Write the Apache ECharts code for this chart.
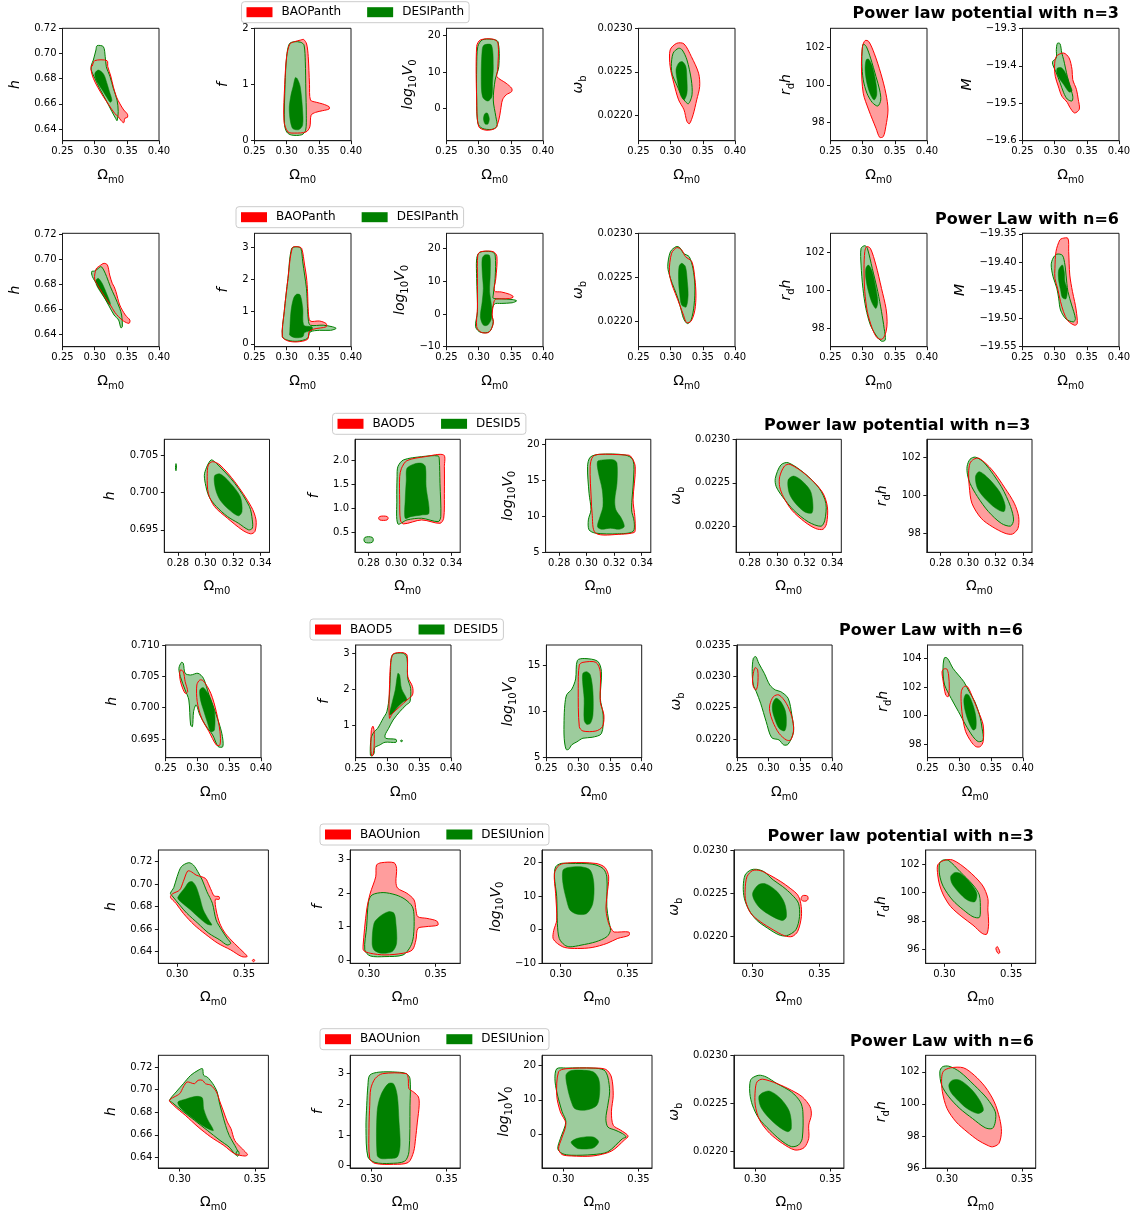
<!DOCTYPE html>
<html>
<head>
<meta charset="utf-8">
<script src="https://cdn.jsdelivr.net/npm/echarts@6/dist/echarts.min.js"></script>
<style>
html,body{margin:0;padding:0;background:#fff}
#chart{width:1145px;height:1216px}
</style>
</head>
<body>
<div id="chart"></div>
<script>
// Contour polygons in data units: each point is [Ωm0, parameter].
// *_bao  : BAO 2σ region, *_desi : DESI 2σ region, *_core : DESI 1σ region.

// ---------- Pantheon+, power law n=3 ----------
const pn3_h_bao = [[[0.296,0.690],[0.300,0.6943],[0.3192,0.6943],[0.3204,0.6895],[0.325,0.6821],[0.329,0.6736],[0.3337,0.6657],[0.3394,0.6599],[0.3452,0.6551],[0.351,0.6517],[0.351,0.6493],[0.347,0.6485],[0.3452,0.645],[0.3412,0.6466],[0.3366,0.6498],[0.3308,0.6525],[0.3221,0.6591],[0.3135,0.6657],[0.3048,0.6731],[0.2979,0.6803],[0.2944,0.6869],[0.2956,0.6909]]];
const pn3_h_desi = [[[0.295,0.6909],[0.2979,0.6948],[0.302,0.7028],[0.3037,0.7062],[0.3135,0.7054],[0.3164,0.6975],[0.3181,0.6895],[0.3239,0.6816],[0.329,0.6723],[0.3348,0.663],[0.3366,0.6538],[0.3348,0.6466],[0.3325,0.6485],[0.3268,0.6538],[0.3175,0.663],[0.3077,0.6723],[0.3002,0.6803],[0.2944,0.6874]]];
const pn3_h_core = [[[0.3005,0.6845],[0.306,0.6868],[0.3140,0.6835],[0.3188,0.6768],[0.3228,0.6700],[0.3268,0.6628],[0.3242,0.6612],[0.3190,0.6650],[0.3120,0.6708],[0.3055,0.6760],[0.3010,0.6808]]];

const pn3_f_bao = [[[0.2958,0.35],[0.297,1.0],[0.300,1.5],[0.305,1.72],[0.312,1.76],[0.3215,1.79],[0.3265,1.80],[0.331,1.72],[0.3335,1.5],[0.3355,1.0],[0.337,0.72],[0.346,0.68],[0.356,0.65],[0.366,0.60],[0.366,0.56],[0.356,0.53],[0.345,0.50],[0.338,0.45],[0.336,0.24],[0.330,0.15],[0.3127,0.13],[0.302,0.15]]];
const pn3_f_desi = [[[0.2965,0.30],[0.2975,1.0],[0.300,1.5],[0.304,1.72],[0.311,1.76],[0.322,1.75],[0.327,1.70],[0.329,1.4],[0.3298,0.9],[0.3305,0.45],[0.3295,0.18],[0.3235,0.10],[0.3075,0.095],[0.300,0.15]]];
const pn3_f_core = [[[0.3087,0.22],[0.304,0.54],[0.3065,0.80],[0.310,0.96],[0.3135,1.12],[0.3165,1.10],[0.321,0.96],[0.3247,0.54],[0.3247,0.27],[0.3185,0.19]]];

const pn3_lv_bao = [[[0.2969,2.3],[0.2969,17.0],[0.3027,18.8],[0.3227,19.0],[0.3301,17.9],[0.3296,10.6],[0.3284,8.7],[0.3427,6.9],[0.3513,5.5],[0.3513,4.6],[0.3427,3.7],[0.337,2.3],[0.3341,-0.5],[0.3313,-3.2],[0.3256,-5.5],[0.3112,-6.0],[0.300,-5.0]]];
const pn3_lv_desi = [[[0.2969,11.5],[0.2987,17.0],[0.3055,18.8],[0.3198,19.0],[0.3301,18.3],[0.3313,11.5],[0.3256,7.8],[0.3227,2.3],[0.3267,-2.3],[0.3284,-5.0],[0.3198,-5.8],[0.3055,-5.5],[0.2987,-4.1],[0.2969,2.3]]];
const pn3_lv_core = [[[0.3055,16.1],[0.3084,17.4],[0.3198,17.4],[0.3227,11.5],[0.3215,6.9],[0.3205,3.2],[0.3141,2.0],[0.3060,3.2],[0.3040,8.7]],[[0.3075,-2.9],[0.3095,-1.5],[0.3135,-1.3],[0.3165,-2.9],[0.3145,-4.3],[0.3100,-4.3]]];

const pn3_wb_bao = [[[0.2992,0.022752],[0.3094,0.022828],[0.3207,0.022821],[0.3321,0.022676],[0.3434,0.022485],[0.3451,0.022332],[0.3405,0.022179],[0.3349,0.022008],[0.3292,0.021905],[0.3253,0.021931],[0.3207,0.022065],[0.3123,0.022179],[0.3049,0.02237],[0.2992,0.022561]]];
const pn3_wb_desi = [[[0.3009,0.022561],[0.3038,0.022714],[0.3123,0.022771],[0.3179,0.022752],[0.3253,0.022637],[0.3321,0.022408],[0.3332,0.022237],[0.3275,0.022134],[0.3207,0.022179],[0.3151,0.022256],[0.3083,0.02237],[0.3026,0.022466]]];
const pn3_wb_core = [[[0.3083,0.022523],[0.3123,0.0226],[0.3179,0.022618],[0.3236,0.022561],[0.3253,0.022408],[0.3253,0.022256],[0.3207,0.022179],[0.3151,0.022237],[0.3106,0.022389]]];

const pn3_rdh_bao = [[[0.2998,102.04],[0.3038,102.35],[0.3094,102.3],[0.3179,101.68],[0.3281,100.62],[0.336,99.56],[0.3394,98.67],[0.336,97.79],[0.3321,97.26],[0.3264,97.22],[0.3207,97.7],[0.3094,98.67],[0.3009,99.56],[0.2981,100.97]]];
const pn3_rdh_desi = [[[0.2992,101.86],[0.3009,102.16],[0.3055,102.04],[0.3123,101.42],[0.3207,100.44],[0.3264,99.73],[0.3281,99.2],[0.3236,98.88],[0.3151,99.06],[0.3066,99.56],[0.3009,100.27],[0.2987,101.15]]];
const pn3_rdh_core = [[[0.3038,100.8],[0.3055,101.33],[0.3094,101.36],[0.3151,100.97],[0.3207,100.09],[0.3219,99.47],[0.3179,99.2],[0.3123,99.47],[0.3066,100.09]]];

const pn3_m_bao = [[[0.2998,-19.401],[0.3026,-19.375],[0.314,-19.366],[0.3224,-19.379],[0.327,-19.410],[0.3281,-19.437],[0.3338,-19.463],[0.3366,-19.489],[0.3383,-19.516],[0.3309,-19.526],[0.3236,-19.511],[0.3196,-19.498],[0.3111,-19.481],[0.3055,-19.454],[0.3009,-19.428]]];
const pn3_m_desi = [[[0.297,-19.388],[0.3026,-19.379],[0.3026,-19.357],[0.3043,-19.340],[0.3083,-19.341],[0.3111,-19.366],[0.314,-19.384],[0.3196,-19.428],[0.3236,-19.454],[0.3281,-19.481],[0.327,-19.494],[0.3196,-19.489],[0.314,-19.472],[0.3083,-19.445],[0.3026,-19.419],[0.297,-19.397]]];
const pn3_m_core = [[[0.3032,-19.417],[0.3043,-19.406],[0.3111,-19.406],[0.3179,-19.423],[0.3236,-19.45],[0.327,-19.467],[0.3224,-19.47],[0.314,-19.45],[0.3066,-19.432]]];

// ---------- Pantheon+, power law n=6 ----------
const pn6_h_bao = [[[0.3,0.6841],[0.3023,0.6921],[0.3081,0.6947],[0.3145,0.6966],[0.3198,0.6953],[0.3233,0.6873],[0.3273,0.6807],[0.3302,0.678],[0.3331,0.674],[0.339,0.6634],[0.3477,0.6554],[0.3547,0.6514],[0.3535,0.6488],[0.3448,0.6506],[0.3372,0.6541],[0.3314,0.6575],[0.3244,0.6634],[0.3157,0.67],[0.307,0.6772]]];
const pn6_h_desi = [[[0.2953,0.69],[0.3,0.6905],[0.3058,0.6926],[0.3099,0.694],[0.314,0.6913],[0.3186,0.686],[0.3244,0.678],[0.3314,0.67],[0.339,0.6607],[0.3419,0.6554],[0.343,0.6461],[0.3407,0.6453],[0.3372,0.6514],[0.3302,0.6554],[0.3215,0.6634],[0.3128,0.6714],[0.3041,0.6793],[0.2965,0.686]]];
const pn6_h_core = [[[0.3023,0.6833],[0.3058,0.6846],[0.3116,0.6807],[0.3174,0.674],[0.3244,0.6647],[0.3233,0.6634],[0.3157,0.6687],[0.307,0.6753],[0.3023,0.6799]]];

const pn6_f_bao = [[[0.2933,0.22],[0.2962,1.0],[0.302,2.03],[0.3089,2.99],[0.3175,3.02],[0.3233,2.97],[0.3279,2.45],[0.3308,2.08],[0.3325,1.62],[0.3337,1.0],[0.3366,0.71],[0.351,0.71],[0.3614,0.63],[0.3614,0.53],[0.3423,0.46],[0.3348,0.37],[0.3325,0.14],[0.3164,0.06],[0.302,0.09]]];
const pn6_f_desi = [[[0.2933,0.22],[0.2962,1.0],[0.302,2.03],[0.3077,2.97],[0.3164,3.02],[0.3221,2.97],[0.325,2.55],[0.3279,2.14],[0.3308,1.72],[0.3325,1.1],[0.3337,0.74],[0.3366,0.58],[0.3567,0.58],[0.3712,0.53],[0.3769,0.48],[0.3683,0.42],[0.351,0.42],[0.3366,0.37],[0.3325,0.17],[0.3164,0.08],[0.302,0.11]]];
const pn6_f_core = [[[0.3048,0.27],[0.3048,0.37],[0.3066,1.0],[0.3106,1.41],[0.3152,1.54],[0.321,1.52],[0.325,1.1],[0.3267,0.58],[0.3394,0.53],[0.3394,0.42],[0.3279,0.35],[0.325,0.22],[0.3135,0.19]]];

const pn6_lv_bao = [[[0.2987,18.0],[0.3038,19.0],[0.3227,19.0],[0.3284,17.5],[0.3267,10.8],[0.3244,7.0],[0.335,6.7],[0.348,6.0],[0.354,5.2],[0.348,4.7],[0.335,4.6],[0.3256,4.4],[0.3227,2.7],[0.321,-0.3],[0.3227,-2.9],[0.3158,-5.6],[0.3038,-5.6],[0.2969,-3.9],[0.2981,1.7],[0.2981,10.8]]];
const pn6_lv_desi = [[[0.2969,16.9],[0.3015,18.8],[0.3198,19.0],[0.3256,18.0],[0.3256,10.8],[0.3227,5.8],[0.3227,4.8],[0.335,4.6],[0.352,4.4],[0.359,4.0],[0.352,3.4],[0.335,3.2],[0.3244,3.0],[0.3198,0.2],[0.3227,-2.4],[0.317,-5.4],[0.3027,-5.6],[0.2952,-3.9],[0.2981,0.7],[0.2969,10.8]]];
const pn6_lv_core = [[[0.3055,16.9],[0.3095,18.0],[0.317,17.8],[0.3181,12.9],[0.317,6.8],[0.3198,2.7],[0.3198,-1.4],[0.3141,-3.4],[0.3072,-3.4],[0.3027,-0.9],[0.3055,3.7],[0.3072,7.8],[0.3055,12.9]]];

const pn6_wb_bao = [[[0.2979,0.022563],[0.3014,0.022772],[0.3095,0.022837],[0.3171,0.02281],[0.323,0.022734],[0.3329,0.022677],[0.3376,0.022487],[0.3393,0.022297],[0.3376,0.022125],[0.3317,0.022],[0.3247,0.021985],[0.32,0.022068],[0.3142,0.022183],[0.3072,0.022316],[0.3014,0.02243]]];
const pn6_wb_desi = [[[0.2955,0.02262],[0.2996,0.02279],[0.3084,0.022848],[0.3142,0.022837],[0.32,0.022772],[0.3288,0.022734],[0.3346,0.022601],[0.3376,0.022411],[0.3364,0.022183],[0.3317,0.022011],[0.3259,0.021973],[0.32,0.02203],[0.3171,0.022106],[0.3113,0.022259],[0.3055,0.022373],[0.2996,0.022487]]];
const pn6_wb_core = [[[0.3124,0.022449],[0.313,0.02262],[0.3171,0.022658],[0.323,0.02262],[0.3259,0.022449],[0.3271,0.022297],[0.3241,0.022163],[0.3171,0.022183],[0.3142,0.022297]]];

const pn6_rdh_bao = [[[0.3021,101.16],[0.3033,102.04],[0.3062,102.3],[0.312,102.21],[0.3206,101.33],[0.3293,100.1],[0.3363,99.05],[0.338,98.35],[0.3363,97.82],[0.3305,97.44],[0.3224,97.51],[0.3149,98.0],[0.3073,98.88],[0.3033,99.93]]];
const pn6_rdh_desi = [[[0.2975,101.33],[0.2975,102.21],[0.3033,102.35],[0.3073,102.21],[0.3149,101.16],[0.3235,99.93],[0.3293,98.88],[0.3334,98.0],[0.3351,97.39],[0.3293,97.33],[0.3206,97.65],[0.312,98.18],[0.305,99.05],[0.3004,100.1]]];
const pn6_rdh_core = [[[0.305,100.63],[0.305,101.16],[0.3091,101.33],[0.3149,100.98],[0.3206,100.1],[0.3235,99.4],[0.3206,99.05],[0.3149,99.32],[0.3091,99.93]]];

const pn6_m_bao = [[[0.3004,-19.429],[0.3004,-19.411],[0.3021,-19.381],[0.3079,-19.361],[0.312,-19.358],[0.3206,-19.358],[0.3218,-19.381],[0.3235,-19.423],[0.3276,-19.452],[0.331,-19.47],[0.3334,-19.485],[0.3351,-19.509],[0.3311,-19.512],[0.3206,-19.504],[0.3137,-19.488],[0.3091,-19.47],[0.3044,-19.446]]];
const pn6_m_desi = [[[0.2946,-19.405],[0.2975,-19.393],[0.3033,-19.386],[0.312,-19.388],[0.316,-19.405],[0.3177,-19.423],[0.3206,-19.452],[0.3264,-19.476],[0.3322,-19.5],[0.3293,-19.506],[0.3177,-19.501],[0.3091,-19.485],[0.3062,-19.464],[0.3033,-19.446],[0.2975,-19.426]]];
const pn6_m_core = [[[0.3062,-19.432],[0.3062,-19.414],[0.312,-19.405],[0.3149,-19.417],[0.316,-19.435],[0.3195,-19.449],[0.3177,-19.465],[0.312,-19.463],[0.3091,-19.449]]];

// ---------- DESY5, power law n=3 ----------
const dn3_h_bao = [[[0.3013,0.70211],[0.3021,0.70367],[0.3053,0.70411],[0.3106,0.70367],[0.3213,0.70144],[0.3333,0.69811],[0.3368,0.69633],[0.336,0.69478],[0.3328,0.69447],[0.3266,0.695],[0.316,0.69656],[0.3066,0.69811],[0.3021,0.69989]]];
const dn3_h_desi = [[[0.2994,0.70256],[0.304,0.70433],[0.308,0.70389],[0.3213,0.70122],[0.332,0.69811],[0.3341,0.69633],[0.3341,0.69522],[0.3314,0.695],[0.324,0.69589],[0.316,0.69678],[0.308,0.69811],[0.3026,0.69944],[0.2999,0.70122]],[[0.2783,0.7031],[0.2783,0.7036],[0.2786,0.70385],[0.2789,0.70365],[0.2789,0.7032],[0.2786,0.7029]]];
const dn3_h_core = [[[0.3066,0.7022],[0.3106,0.70247],[0.3173,0.70144],[0.3253,0.69944],[0.3266,0.69744],[0.324,0.69687],[0.3173,0.69767],[0.3106,0.699],[0.3074,0.70042]]];

const dn3_f_bao = [[[0.3026,1.667],[0.3039,1.84],[0.3079,2.0],[0.3213,2.083],[0.3346,2.118],[0.3351,1.875],[0.3351,1.319],[0.3346,0.799],[0.3319,0.694],[0.3186,0.764],[0.3053,0.681],[0.3031,0.764],[0.3026,1.181]],[[0.2873,0.80],[0.2880,0.835],[0.2907,0.845],[0.2935,0.835],[0.2942,0.80],[0.2935,0.765],[0.2907,0.755],[0.2880,0.765]]];
const dn3_f_desi = [[[0.3007,1.667],[0.3013,1.875],[0.3053,2.014],[0.3186,2.083],[0.3306,2.097],[0.3314,2.014],[0.3319,1.528],[0.3325,0.833],[0.3306,0.729],[0.3186,0.799],[0.3079,0.764],[0.3013,0.681],[0.3005,1.181]],[[0.2766,0.35],[0.2773,0.40],[0.2800,0.415],[0.2827,0.40],[0.2834,0.35],[0.2827,0.30],[0.2800,0.285],[0.2773,0.30]]];
const dn3_f_core = [[[0.3074,1.597],[0.3079,1.84],[0.3133,1.931],[0.3186,1.944],[0.3213,1.875],[0.3218,1.458],[0.3239,0.903],[0.3186,0.868],[0.3106,0.833],[0.3066,0.799],[0.3066,1.181]]];

const dn3_lv_bao = [[[0.3025,16.87],[0.3044,18.25],[0.3092,18.57],[0.3278,18.48],[0.3318,18.34],[0.3353,16.87],[0.3337,12.26],[0.335,9.95],[0.3353,8.11],[0.3345,7.74],[0.3252,7.51],[0.3065,7.65],[0.3039,10.41],[0.3033,12.26]]];
const dn3_lv_desi = [[[0.3006,16.87],[0.3025,18.16],[0.3092,18.57],[0.3278,18.48],[0.3337,17.79],[0.334,15.02],[0.3326,10.88],[0.3345,9.26],[0.3337,7.88],[0.3225,7.56],[0.3065,7.65],[0.3017,8.11],[0.3012,9.49],[0.3031,10.88],[0.3017,13.18]]];
const dn3_lv_core = [[[0.3086,15.94],[0.3078,17.56],[0.3118,17.79],[0.3198,17.79],[0.322,17.33],[0.322,14.56],[0.3204,12.26],[0.3212,10.88],[0.3252,9.72],[0.3273,8.57],[0.3238,8.2],[0.3172,8.34],[0.3105,8.2],[0.3078,8.57],[0.3097,9.95],[0.3118,11.34],[0.3113,13.64]]];

const dn3_wb_bao = [[[0.3018,0.022454],[0.3018,0.022569],[0.3053,0.022692],[0.3093,0.022712],[0.3212,0.022588],[0.3327,0.022396],[0.3365,0.022223],[0.3359,0.022031],[0.3333,0.021965],[0.328,0.021973],[0.32,0.02205],[0.3106,0.022185],[0.3045,0.022338]]];
const dn3_wb_desi = [[[0.2986,0.02255],[0.3026,0.022704],[0.3079,0.022731],[0.3199,0.022608],[0.3306,0.022435],[0.3354,0.022262],[0.3346,0.022069],[0.3319,0.022],[0.3226,0.02205],[0.3119,0.022185],[0.3039,0.022338],[0.2993,0.022454]]];
const dn3_wb_core = [[[0.3079,0.022531],[0.3119,0.022577],[0.3173,0.022531],[0.3239,0.022415],[0.3258,0.022281],[0.3253,0.022154],[0.32,0.022165],[0.3133,0.022262],[0.3088,0.022377]]];

const dn3_rdh_bao = [[[0.3005,101.18],[0.3015,101.7],[0.3042,101.91],[0.3082,101.96],[0.3176,101.35],[0.327,100.39],[0.3337,99.6],[0.3369,98.89],[0.3364,98.28],[0.3324,97.98],[0.327,98.02],[0.3176,98.37],[0.3096,98.81],[0.3029,99.6],[0.301,100.47]]];
const dn3_rdh_desi = [[[0.2994,101.53],[0.3015,101.91],[0.3055,102.02],[0.3122,101.7],[0.3243,100.47],[0.331,99.42],[0.3332,98.72],[0.331,98.4],[0.3243,98.54],[0.3149,99.16],[0.3069,99.95],[0.3015,100.65],[0.2997,101.09]]];
const dn3_rdh_core = [[[0.3055,101.0],[0.3082,101.26],[0.3149,100.91],[0.323,100.21],[0.327,99.51],[0.3262,99.16],[0.3203,99.33],[0.3122,99.86],[0.3069,100.39]]];

// ---------- DESY5, power law n=6 ----------
const dn6_h_bao = [[[0.299,0.70362],[0.3037,0.70441],[0.3094,0.70426],[0.321,0.70229],[0.3296,0.69936],[0.3354,0.69617],[0.3354,0.69404],[0.3296,0.69404],[0.3181,0.69617],[0.3066,0.6983],[0.2996,0.70096]],[[0.272,0.70495],[0.2731,0.70601],[0.2777,0.70574],[0.2806,0.70415],[0.2846,0.70255],[0.2806,0.70229],[0.2748,0.70362]]];
const dn6_h_desi = [[[0.2708,0.70628],[0.2748,0.70723],[0.2777,0.70707],[0.2806,0.70548],[0.2892,0.70521],[0.3008,0.70548],[0.3094,0.70468],[0.3181,0.70202],[0.3296,0.69883],[0.3383,0.6959],[0.34,0.69378],[0.3325,0.69378],[0.3239,0.69564],[0.3123,0.69723],[0.3037,0.69883],[0.2979,0.70043],[0.2939,0.69936],[0.2921,0.69697],[0.2892,0.69723],[0.2864,0.70122],[0.2806,0.70282],[0.2731,0.70495]]];
const dn6_h_core = [[[0.3048,0.70122],[0.3037,0.70282],[0.3094,0.70319],[0.3192,0.70176],[0.3267,0.69936],[0.3267,0.69644],[0.321,0.69617],[0.3152,0.69777],[0.3094,0.69963]]];

const dn6_f_bao = [[[0.3031,1.2],[0.3031,2.03],[0.3077,2.96],[0.3221,3.03],[0.3308,2.96],[0.3319,2.36],[0.3394,2.08],[0.3394,1.85],[0.3308,1.71],[0.3192,1.52],[0.3077,1.33]],[[0.2740,0.30],[0.2740,0.55],[0.2745,0.85],[0.2770,0.98],[0.2790,0.85],[0.2790,0.40],[0.2775,0.20],[0.2755,0.15]]];
const dn6_f_desi = [[[0.2731,0.17],[0.2742,0.64],[0.2789,0.82],[0.2846,0.92],[0.2933,1.2],[0.299,1.38],[0.3031,1.85],[0.3048,2.5],[0.3077,2.96],[0.325,3.01],[0.3308,2.87],[0.3319,2.31],[0.3365,2.03],[0.3354,1.66],[0.3296,1.57],[0.3192,1.38],[0.3089,1.15],[0.3019,0.92],[0.2962,0.73],[0.2973,0.64],[0.3135,0.61],[0.3135,0.53],[0.2962,0.53],[0.2875,0.45],[0.28,0.38],[0.2789,0.22],[0.276,0.15]],[[0.3205,0.57],[0.3215,0.59],[0.3235,0.58],[0.3230,0.55],[0.3212,0.55]]];
const dn6_f_core = [[[0.3031,1.29],[0.3077,1.66],[0.3123,1.99],[0.3164,2.45],[0.3192,2.4],[0.3221,2.03],[0.3308,1.71],[0.325,1.66],[0.3164,1.52],[0.3077,1.33]]];

const dn6_lv_bao = [[[0.3001,12.48],[0.3018,15.0],[0.3075,15.29],[0.3279,15.29],[0.3348,14.28],[0.3348,11.04],[0.3405,9.6],[0.3383,8.35],[0.3279,7.88],[0.3075,7.88],[0.3018,8.35]]];
const dn6_lv_desi = [[[0.2780,7.1],[0.2778,9.0],[0.2790,10.7],[0.2820,11.8],[0.2900,12.4],[0.2960,13.5],[0.2988,15.5],[0.3105,15.7],[0.3307,15.4],[0.3366,14.3],[0.3348,11.4],[0.3394,9.6],[0.3366,7.6],[0.3220,7.2],[0.3075,7.1],[0.2977,6.7],[0.2901,6.4],[0.2850,5.9],[0.2810,5.9]]];
const dn6_lv_core = [[[0.307,13.2],[0.3075,14.1],[0.3134,14.28],[0.3192,13.92],[0.3232,12.12],[0.3232,9.6],[0.3192,8.71],[0.3134,8.6],[0.3094,9.06],[0.3094,11.4]]];

const dn6_wb_bao = [[[0.3019,0.022436],[0.3019,0.022543],[0.3077,0.022676],[0.3164,0.022702],[0.3279,0.022569],[0.3366,0.022356],[0.3394,0.022144],[0.3348,0.021984],[0.3279,0.021984],[0.3164,0.02209],[0.3066,0.022277]],[[0.2748,0.022941],[0.276,0.023048],[0.2789,0.023138],[0.2829,0.023101],[0.2829,0.022862],[0.28,0.022782],[0.276,0.022835]]];
const dn6_wb_desi = [[[0.2742,0.023074],[0.276,0.023287],[0.28,0.023314],[0.2846,0.023207],[0.2933,0.023048],[0.3019,0.022862],[0.3106,0.022782],[0.3192,0.022755],[0.3308,0.022649],[0.3366,0.022383],[0.3394,0.022117],[0.3308,0.021915],[0.3239,0.021904],[0.3164,0.021984],[0.3048,0.022021],[0.2962,0.022277],[0.2875,0.022569],[0.2806,0.022755],[0.276,0.022862]]];
const dn6_wb_core = [[[0.306,0.022463],[0.3066,0.022569],[0.3117,0.022649],[0.3192,0.022596],[0.3267,0.022436],[0.3279,0.022223],[0.325,0.022128],[0.3164,0.02217],[0.3094,0.02233]]];

const dn6_rdh_bao = [[[0.3032,100.75],[0.3032,101.68],[0.3072,102.03],[0.313,102.03],[0.3216,101.21],[0.3301,100.28],[0.3376,99.34],[0.3376,98.17],[0.333,97.82],[0.3261,97.82],[0.3187,98.17],[0.3101,98.87],[0.3055,99.81]],[[0.2729,103.09],[0.2746,102.43],[0.2786,101.45],[0.2826,101.33],[0.2843,101.92],[0.2832,102.85],[0.2804,103.27],[0.2757,103.27]]];
const dn6_rdh_desi = [[[0.2746,102.85],[0.2746,103.56],[0.2769,104.07],[0.2815,104.02],[0.2901,103.32],[0.2987,102.85],[0.3072,102.38],[0.3158,101.67],[0.3244,100.98],[0.3319,100.04],[0.3359,99.11],[0.3376,98.29],[0.3301,98.17],[0.3216,98.52],[0.3101,99.34],[0.2987,100.28],[0.2872,101.21],[0.2769,102.15]]];
const dn6_rdh_core = [[[0.309,100.39],[0.3072,101.1],[0.3101,101.49],[0.3147,101.45],[0.3216,100.74],[0.3261,99.93],[0.3261,99.11],[0.3216,98.99],[0.3147,99.57]]];

// ---------- Union3, power law n=3 ----------
const un3_h_bao = [[[0.295,0.6883],[0.2964,0.6913],[0.3019,0.6948],[0.3046,0.7022],[0.3079,0.7117],[0.3106,0.7111],[0.3142,0.7081],[0.3211,0.7052],[0.3238,0.6993],[0.326,0.6933],[0.3278,0.6895],[0.3314,0.6889],[0.3314,0.6865],[0.3286,0.6865],[0.3292,0.677],[0.3319,0.6652],[0.336,0.6563],[0.3428,0.6474],[0.3505,0.6385],[0.3524,0.6356],[0.3483,0.6356],[0.3401,0.6415],[0.3305,0.6474],[0.321,0.6557],[0.3128,0.6637],[0.3046,0.6741],[0.2991,0.683]],[[0.3563,0.6318],[0.3568,0.6330],[0.3578,0.6328],[0.3580,0.6318],[0.3572,0.6310]]];
const un3_h_desi = [[[0.295,0.6919],[0.2975,0.697],[0.3,0.7067],[0.3032,0.7156],[0.3087,0.7191],[0.3122,0.717],[0.3155,0.7111],[0.3188,0.7037],[0.3223,0.6933],[0.3264,0.683],[0.3292,0.6681],[0.3333,0.6593],[0.3374,0.6519],[0.3401,0.6474],[0.3374,0.6459],[0.3319,0.6504],[0.3237,0.6563],[0.3155,0.6652],[0.3073,0.6741],[0.3019,0.6815],[0.2964,0.6895]]];
const un3_h_core = [[[0.3005,0.6883],[0.306,0.6972],[0.3087,0.7016],[0.3114,0.7022],[0.3142,0.6978],[0.3169,0.6883],[0.3196,0.677],[0.3237,0.6681],[0.3259,0.6637],[0.3223,0.6646],[0.3169,0.6696],[0.3101,0.677],[0.3046,0.6824],[0.3013,0.6859]]];

const un3_f_bao = [[[0.2956,0.40],[0.2983,1.49],[0.301,1.99],[0.3051,2.48],[0.3057,2.83],[0.3092,2.90],[0.3188,2.90],[0.3207,2.73],[0.3202,2.33],[0.3215,2.14],[0.3284,1.99],[0.3338,1.79],[0.3352,1.49],[0.3366,1.29],[0.3434,1.24],[0.3508,1.16],[0.3516,1.04],[0.342,0.99],[0.3366,0.94],[0.3352,0.6],[0.3325,0.30],[0.3256,0.20],[0.312,0.15],[0.301,0.20],[0.2961,0.28]]];
const un3_f_desi = [[[0.2969,0.30],[0.2983,0.99],[0.2997,1.74],[0.3024,1.94],[0.3106,2.01],[0.3202,1.94],[0.327,1.81],[0.3325,1.59],[0.3338,1.29],[0.3333,0.70],[0.3311,0.40],[0.3256,0.15],[0.312,0.10],[0.301,0.12]]];
const un3_f_core = [[[0.3038,0.30],[0.3024,0.50],[0.3038,1.09],[0.3079,1.29],[0.3147,1.44],[0.3188,1.39],[0.3202,1.09],[0.3207,0.50],[0.3174,0.25],[0.3092,0.20]]];

const un3_lv_bao = [[[0.2948,-0.2],[0.297,2.8],[0.2962,10.7],[0.2953,16.7],[0.2989,19.2],[0.307,19.9],[0.3263,19.7],[0.3331,18.5],[0.3359,15.7],[0.3345,9.8],[0.3339,5.8],[0.3359,1.8],[0.3386,-0.2],[0.34,-0.7],[0.351,-0.7],[0.351,-1.7],[0.3427,-2.6],[0.3345,-4.1],[0.3235,-5.3],[0.3125,-5.6],[0.303,-5.3],[0.2975,-4.1],[0.2943,-2.6]]];
const un3_lv_desi = [[[0.2953,15.7],[0.2962,18.7],[0.3003,19.7],[0.307,19.7],[0.3235,19.5],[0.3317,18.2],[0.3345,15.7],[0.3345,6.8],[0.3359,2.8],[0.3372,-0.2],[0.3345,-2.1],[0.3263,-3.6],[0.3152,-4.6],[0.307,-5.1],[0.303,-4.6],[0.2989,-2.6],[0.2975,1.8],[0.297,9.8]]];
const un3_lv_core = [[[0.3017,13.7],[0.3017,17.7],[0.3058,18.5],[0.3152,18.7],[0.3221,17.7],[0.3248,13.7],[0.324,7.8],[0.3194,4.8],[0.3125,4.6],[0.307,5.8],[0.3044,8.8]]];

const un3_wb_bao = [[[0.2949,0.022404],[0.2944,0.022538],[0.2958,0.022692],[0.3,0.022762],[0.3056,0.022762],[0.3126,0.022712],[0.3211,0.022635],[0.3281,0.022558],[0.3337,0.022481],[0.336,0.022385],[0.3365,0.022231],[0.3337,0.022058],[0.3295,0.022],[0.3239,0.022008],[0.3154,0.022077],[0.3056,0.022173],[0.2986,0.022269]],[[0.3362,0.02243],[0.3372,0.02247],[0.3392,0.022475],[0.3412,0.022465],[0.3414,0.02243],[0.34,0.02241],[0.3378,0.02241]]];
const un3_wb_desi = [[[0.2938,0.022442],[0.293,0.022577],[0.2944,0.022712],[0.2986,0.022769],[0.3028,0.022777],[0.3084,0.02275],[0.3154,0.022654],[0.3225,0.022577],[0.3295,0.022481],[0.3343,0.022385],[0.3351,0.022231],[0.3323,0.022077],[0.3253,0.022008],[0.3197,0.022019],[0.3112,0.022096],[0.3028,0.022192],[0.2972,0.022308]]];
const un3_wb_core = [[[0.3014,0.022415],[0.3,0.0225],[0.3042,0.022596],[0.3098,0.022608],[0.3183,0.022519],[0.3239,0.022385],[0.3253,0.022231],[0.3225,0.022185],[0.314,0.022238],[0.3056,0.022327]]];

const un3_rdh_bao = [[[0.295,101.23],[0.295,101.93],[0.2992,102.23],[0.3061,102.28],[0.3172,101.58],[0.3283,100.52],[0.3325,99.58],[0.3325,98.76],[0.3331,97.82],[0.3317,97.07],[0.3283,97.12],[0.3214,97.7],[0.3131,98.29],[0.3047,99.0],[0.2992,99.82],[0.2964,100.52]],[[0.3385,96.05],[0.3395,96.2],[0.3405,96.05],[0.3415,95.8],[0.3405,95.7],[0.3395,95.8]]];
const un3_rdh_desi = [[[0.2964,101.23],[0.2964,102.05],[0.2992,102.28],[0.3033,102.23],[0.3117,101.46],[0.3214,100.52],[0.3261,99.82],[0.3269,98.76],[0.3261,98.24],[0.3214,98.29],[0.3144,98.76],[0.3061,99.46],[0.2992,100.4]]];
const un3_rdh_core = [[[0.3056,100.64],[0.3047,101.11],[0.3075,101.39],[0.3117,101.34],[0.3186,100.76],[0.3242,99.93],[0.3228,99.35],[0.3172,99.46],[0.3103,100.05]]];

// ---------- Union3, power law n=6 ----------
const un6_h_bao = [[[0.2932,0.6905],[0.3,0.6964],[0.3024,0.7023],[0.3049,0.7067],[0.3098,0.7052],[0.3122,0.7082],[0.3151,0.7082],[0.3171,0.7052],[0.3207,0.7038],[0.3244,0.6979],[0.3268,0.689],[0.3293,0.6801],[0.3317,0.6713],[0.3341,0.6654],[0.3366,0.655],[0.3415,0.6477],[0.3451,0.6424],[0.3434,0.6412],[0.3366,0.6432],[0.3293,0.6506],[0.3207,0.658],[0.3122,0.6669],[0.3037,0.6772],[0.2963,0.6855]]];
const un6_h_desi = [[[0.2932,0.6905],[0.2976,0.6979],[0.3024,0.7052],[0.3073,0.7126],[0.3122,0.717],[0.3151,0.7185],[0.3159,0.7126],[0.3183,0.7111],[0.322,0.7052],[0.3249,0.6979],[0.3263,0.689],[0.328,0.6801],[0.3305,0.6683],[0.3329,0.6595],[0.3378,0.6477],[0.339,0.6432],[0.3371,0.6424],[0.3329,0.6491],[0.3268,0.655],[0.3183,0.6639],[0.3098,0.6728],[0.3012,0.6816],[0.2951,0.6884]],[[0.3375,0.6425],[0.3378,0.645],[0.339,0.6455],[0.3395,0.643],[0.3385,0.641]]];
const un6_h_core = [[[0.2988,0.689],[0.3037,0.6914],[0.3085,0.6934],[0.3122,0.694],[0.3151,0.6925],[0.3159,0.6831],[0.3183,0.6742],[0.3224,0.6639],[0.3195,0.6648],[0.3134,0.6698],[0.3061,0.6772],[0.3,0.6846]]];

const un6_f_bao = [[[0.2988,1.97],[0.2995,2.51],[0.3024,2.84],[0.3073,3.0],[0.3232,3.0],[0.3244,2.84],[0.3249,2.51],[0.328,2.4],[0.3312,2.24],[0.3317,1.97],[0.3305,1.42],[0.3293,0.88],[0.328,0.45],[0.3244,0.10],[0.3146,0.04],[0.3024,0.07],[0.2988,0.23],[0.2983,1.21]]];
const un6_f_desi = [[[0.2968,1.97],[0.2976,2.62],[0.2988,2.95],[0.3049,3.05],[0.3171,3.05],[0.3232,3.0],[0.3256,2.84],[0.3256,1.97],[0.3249,0.45],[0.322,0.14],[0.3122,0.07],[0.3024,0.10],[0.2976,0.28],[0.2963,1.21]]];
const un6_f_core = [[[0.3061,0.23],[0.3037,0.34],[0.3037,1.75],[0.3061,2.29],[0.311,2.67],[0.3146,2.67],[0.3171,2.29],[0.3183,1.42],[0.319,0.66],[0.3171,0.28],[0.311,0.23]]];

const un6_lv_bao = [[[0.2956,11.3],[0.298,6.5],[0.3017,3.1],[0.2988,-1.3],[0.2968,-4.2],[0.2992,-5.9],[0.3052,-6.3],[0.3198,-6.3],[0.332,-4.9],[0.3406,-1.7],[0.3431,-0.5],[0.3381,1.2],[0.3332,2.6],[0.332,6.5],[0.3332,11.3],[0.332,16.6],[0.3283,18.8],[0.3198,19.2],[0.3017,19.0],[0.2968,18.1]]];
const un6_lv_desi = [[[0.2944,16.1],[0.2956,19.0],[0.3017,19.2],[0.3198,19.2],[0.3271,18.6],[0.3296,16.6],[0.3308,12.3],[0.3296,8.4],[0.3283,4.5],[0.3296,2.1],[0.3344,1.2],[0.3393,0.2],[0.3418,-0.8],[0.3393,-1.3],[0.3296,-5.1],[0.3198,-5.9],[0.3052,-6.1],[0.2992,-5.6],[0.2963,-4.2],[0.298,-1.3],[0.3017,3.6],[0.2992,6.5],[0.2956,12.3]]];
const un6_lv_core = [[[0.3029,13.2],[0.3017,17.1],[0.3041,18.3],[0.3101,18.6],[0.3198,18.1],[0.3235,16.1],[0.3242,12.3],[0.3223,8.4],[0.315,7.0],[0.3077,7.4],[0.3053,9.4]],[[0.3052,-2.2],[0.3101,-1.1],[0.3198,-0.8],[0.3235,-2.2],[0.3198,-4.0],[0.3101,-4.2],[0.3065,-3.2]]];

const un6_wb_bao = [[[0.3,0.022483],[0.3,0.022638],[0.3012,0.022724],[0.3048,0.022752],[0.3144,0.022707],[0.324,0.022638],[0.3313,0.022569],[0.3365,0.022466],[0.3373,0.022379],[0.3356,0.022276],[0.3356,0.022138],[0.3325,0.022041],[0.3264,0.022017],[0.318,0.022086],[0.3096,0.02219],[0.3029,0.022328]]];
const un6_wb_desi = [[[0.2964,0.022603],[0.2964,0.022707],[0.2976,0.022759],[0.3024,0.022793],[0.3072,0.022776],[0.3144,0.022707],[0.324,0.022621],[0.33,0.022517],[0.3317,0.022414],[0.3313,0.022138],[0.3288,0.022069],[0.324,0.022052],[0.3168,0.022121],[0.3096,0.022224],[0.3024,0.022345],[0.2981,0.022483]]];
const un6_wb_core = [[[0.3036,0.022466],[0.3024,0.022569],[0.3048,0.02261],[0.3096,0.022628],[0.3168,0.022552],[0.3228,0.022414],[0.324,0.022241],[0.3216,0.022207],[0.3156,0.022259],[0.3084,0.022362]]];

const un6_rdh_bao = [[[0.2969,100.75],[0.2964,101.58],[0.2976,102.04],[0.3024,102.25],[0.3109,102.25],[0.3181,101.79],[0.3254,101.06],[0.3314,100.13],[0.335,99.09],[0.3362,98.26],[0.3345,97.53],[0.3302,97.32],[0.3266,97.43],[0.3205,97.74],[0.3133,98.26],[0.306,98.88],[0.3,99.71]]];
const un6_rdh_desi = [[[0.2964,101.17],[0.2952,102.0],[0.2969,102.31],[0.3012,102.35],[0.3085,102.0],[0.3181,101.17],[0.3266,100.34],[0.3321,99.51],[0.3321,98.88],[0.3302,98.47],[0.3254,98.51],[0.3169,99.09],[0.3085,99.71],[0.3012,100.44]]];
const un6_rdh_core = [[[0.3024,100.75],[0.3012,101.17],[0.3036,101.48],[0.3085,101.48],[0.3157,100.96],[0.3217,100.23],[0.3242,99.61],[0.3205,99.4],[0.3133,99.71],[0.306,100.34]]];

// ---------- tick values ----------
const omTicksWide = [0.25, 0.30, 0.35, 0.40];
const omTicksD5 = [0.28, 0.30, 0.32, 0.34];
const omTicksUnion = [0.30, 0.35];
const hTicks2 = [0.64, 0.66, 0.68, 0.70, 0.72];
const hTicksD5n3 = [0.695, 0.700, 0.705];
const hTicksD5n6 = [0.695, 0.700, 0.705, 0.710];
const wbTicks = [0.0220, 0.0225, 0.0230];
const wbTicksWide = [0.0220, 0.0225, 0.0230, 0.0235];
const mTicksN3 = [-19.6, -19.5, -19.4, -19.3];
const mTicksN6 = [-19.55, -19.50, -19.45, -19.40, -19.35];

// ---------- row layout (pixels) ----------
const ROWS = [
  {top:28.3, h:112.4, w:96.5, lefts:[62.5,254.5,446.5,638.5,830.5,1022.5], x:[0.25,0.40], xt:omTicksWide,
   title:'Power law potential with n=3', titleRight:26, titleTop:5, legendLeft:241.5, legendTop:1.7, names:['BAOPanth','DESIPanth']},
  {top:233.3, h:113.4, w:96.5, lefts:[62.5,254.5,446.5,638.5,830.5,1022.5], x:[0.25,0.40], xt:omTicksWide,
   title:'Power Law with n=6', titleRight:26, titleTop:211, legendLeft:236, legendTop:206.7, names:['BAOPanth','DESIPanth']},
  {top:439.3, h:113, w:105.2, lefts:[164.3,355,545.6,736.1,926.8], x:[0.2701,0.3466], xt:omTicksD5,
   title:'Power law potential with n=3', titleRight:114.5, titleTop:417, legendLeft:332.5, legendTop:413.3, names:['BAOD5','DESID5']},
  {top:645, h:112.7, w:95.3, lefts:[165.7,355.7,546.4,736.8,927.5], x:[0.25,0.40], xt:omTicksWide,
   title:'Power Law with n=6', titleRight:122, titleTop:622, legendLeft:310, legendTop:619, names:['BAOD5','DESID5']},
  {top:850, h:113.3, w:110, lefts:[158.4,350.2,542,733.9,925.7], x:[0.286,0.3683], xt:omTicksUnion,
   title:'Power law potential with n=3', titleRight:111, titleTop:828, legendLeft:320, legendTop:824, names:['BAOUnion','DESIUnion']},
  {top:1055.3, h:112.7, w:110, lefts:[158.4,350.2,542,733.9,925.7], x:[0.2858,0.359], xt:omTicksUnion,
   title:'Power Law with n=6', titleRight:111, titleTop:1033, legendLeft:320, legendTop:1028.7, names:['BAOUnion','DESIUnion']}
];

// ---------- panels ----------
const PANELS = [
  {r:0,c:0,k:'h',  y:[0.6307,0.72],    yt:hTicks2,   d:2, bao:pn3_h_bao,  desi:pn3_h_desi,  core:pn3_h_core},
  {r:0,c:1,k:'f',  y:[-0.006,2.0],     yt:[0,1,2],   d:0, bao:pn3_f_bao,  desi:pn3_f_desi,  core:pn3_f_core},
  {r:0,c:2,k:'lv', y:[-8.9,22.0],      yt:[0,10,20], d:0, bao:pn3_lv_bao, desi:pn3_lv_desi, core:pn3_lv_core},
  {r:0,c:3,k:'wb', y:[0.02171,0.0230], yt:wbTicks,   d:4, bao:pn3_wb_bao, desi:pn3_wb_desi, core:pn3_wb_core},
  {r:0,c:4,k:'rdh',y:[97.04,103.0],    yt:[98,100,102], d:0, bao:pn3_rdh_bao, desi:pn3_rdh_desi, core:pn3_rdh_core},
  {r:0,c:5,k:'M',  y:[-19.6,-19.3],    yt:mTicksN3,  d:1, bao:pn3_m_bao,  desi:pn3_m_desi,  core:pn3_m_core},

  {r:1,c:0,k:'h',  y:[0.6302,0.7205],  yt:hTicks2,   d:2, bao:pn6_h_bao,  desi:pn6_h_desi,  core:pn6_h_core},
  {r:1,c:1,k:'f',  y:[-0.09,3.44],     yt:[0,1,2,3], d:0, bao:pn6_f_bao,  desi:pn6_f_desi,  core:pn6_f_core},
  {r:1,c:2,k:'lv', y:[-10,24.6],       yt:[-10,0,10,20], d:0, bao:pn6_lv_bao, desi:pn6_lv_desi, core:pn6_lv_core},
  {r:1,c:3,k:'wb', y:[0.02171,0.0230], yt:wbTicks,   d:4, bao:pn6_wb_bao, desi:pn6_wb_desi, core:pn6_wb_core},
  {r:1,c:4,k:'rdh',y:[97.04,103.0],    yt:[98,100,102], d:0, bao:pn6_rdh_bao, desi:pn6_rdh_desi, core:pn6_rdh_core},
  {r:1,c:5,k:'M',  y:[-19.55,-19.349], yt:mTicksN6,  d:2, bao:pn6_m_bao,  desi:pn6_m_desi,  core:pn6_m_core},

  {r:2,c:0,k:'h',  y:[0.6920,0.7071],  yt:hTicksD5n3, d:3, bao:dn3_h_bao, desi:dn3_h_desi, core:dn3_h_core},
  {r:2,c:1,k:'f',  y:[0.09,2.444],     yt:[0.5,1.0,1.5,2.0], d:1, bao:dn3_f_bao, desi:dn3_f_desi, core:dn3_f_core},
  {r:2,c:2,k:'lv', y:[5,20.65],        yt:[5,10,15,20], d:0, bao:dn3_lv_bao, desi:dn3_lv_desi, core:dn3_lv_core},
  {r:2,c:3,k:'wb', y:[0.02170,0.0230], yt:wbTicks,   d:4, bao:dn3_wb_bao, desi:dn3_wb_desi, core:dn3_wb_core},
  {r:2,c:4,k:'rdh',y:[97.02,102.96],   yt:[98,100,102], d:0, bao:dn3_rdh_bao, desi:dn3_rdh_desi, core:dn3_rdh_core},

  {r:3,c:0,k:'h',  y:[0.6920,0.710],   yt:hTicksD5n6, d:3, bao:dn6_h_bao, desi:dn6_h_desi, core:dn6_h_core},
  {r:3,c:1,k:'f',  y:[0.1,3.24],       yt:[1,2,3],   d:0, bao:dn6_f_bao,  desi:dn6_f_desi,  core:dn6_f_core},
  {r:3,c:2,k:'lv', y:[5,17.16],        yt:[5,10,15], d:0, bao:dn6_lv_bao, desi:dn6_lv_desi, core:dn6_lv_core},
  {r:3,c:3,k:'wb', y:[0.02170,0.0235], yt:wbTicksWide, d:4, bao:dn6_wb_bao, desi:dn6_wb_desi, core:dn6_wb_core},
  {r:3,c:4,k:'rdh',y:[97.04,104.96],   yt:[98,100,102,104], d:0, bao:dn6_rdh_bao, desi:dn6_rdh_desi, core:dn6_rdh_core},

  {r:4,c:0,k:'h',  y:[0.6296,0.7304],  yt:hTicks2,   d:2, bao:un3_h_bao,  desi:un3_h_desi,  core:un3_h_core},
  {r:4,c:1,k:'f',  y:[-0.1,3.28],      yt:[0,1,2,3], d:0, bao:un3_f_bao,  desi:un3_f_desi,  core:un3_f_core},
  {r:4,c:2,k:'lv', y:[-10,23.7],       yt:[-10,0,10,20], d:0, bao:un3_lv_bao, desi:un3_lv_desi, core:un3_lv_core},
  {r:4,c:3,k:'wb', y:[0.02169,0.0230], yt:wbTicks,   d:4, bao:un3_wb_bao, desi:un3_wb_desi, core:un3_wb_core},
  {r:4,c:4,k:'rdh',y:[95.02,102.98],   yt:[96,98,100,102], d:0, bao:un3_rdh_bao, desi:un3_rdh_desi, core:un3_rdh_core},

  {r:5,c:0,k:'h',  y:[0.6306,0.7303],  yt:hTicks2,   d:2, bao:un6_h_bao,  desi:un6_h_desi,  core:un6_h_core},
  {r:5,c:1,k:'f',  y:[-0.08,3.6],      yt:[0,1,2,3], d:0, bao:un6_f_bao,  desi:un6_f_desi,  core:un6_f_core},
  {r:5,c:2,k:'lv', y:[-9.8,22.9],      yt:[0,10,20], d:0, bao:un6_lv_bao, desi:un6_lv_desi, core:un6_lv_core},
  {r:5,c:3,k:'wb', y:[0.02183,0.0230], yt:wbTicks,   d:4, bao:un6_wb_bao, desi:un6_wb_desi, core:un6_wb_core},
  {r:5,c:4,k:'rdh',y:[96,103.03],      yt:[96,98,100,102], d:0, bao:un6_rdh_bao, desi:un6_rdh_desi, core:un6_rdh_core}
];

// ---------- styling ----------
const FONT = 'DejaVu Sans';
const RED = '#ff0000', RED_FILL = '#ff9d9d';
const GREEN = '#008000', GREEN_FILL = '#9dcc9d';
const AXIS_COLOR = '#1a1a1a';

const RICH = {
  it:  {fontFamily:FONT, fontStyle:'italic', fontSize:14, lineHeight:20, color:'#000'},
  rm:  {fontFamily:FONT, fontSize:14, lineHeight:20, color:'#000'},
  sub: {fontFamily:FONT, fontSize:10, lineHeight:10, verticalAlign:'bottom', color:'#000'}
};
const Y_NAMES = {
  h:'{it|h}', f:'{it|f}', lv:'{it|log}{sub|10}{it|V}{sub|0}',
  wb:'{it|ω}{sub|b}', rdh:'{it|r}{sub|d}{it|h}', M:'{it|M}'
};
const X_NAME = '{rm|Ω}{sub|m0}';

function fmt(v, d) {
  const s = Math.abs(v).toFixed(d);
  return (v < 0 && Number(s) !== 0 ? '\u2212' : '') + s;
}
function tickWidth(s) {
  let w = 0;
  for (const ch of s) w += ch === '.' ? 3.18 : (ch === '\u2212' ? 8.38 : 6.36);
  return w;
}

function polySeries(name, polys, idx, style) {
  return {
    type: 'custom', name, xAxisIndex: idx, yAxisIndex: idx, coordinateSystem: 'cartesian2d',
    silent: true, animation: false,
    itemStyle: {color: style.legendColor},
    data: polys.map((p, i) => [p[0][0], p[0][1], i]),
    encode: {x: 0, y: 1},
    renderItem: function (params, api) {
      const pts = polys[params.dataIndex].map(pt => api.coord(pt));
      return {
        type: 'polygon',
        shape: {points: pts, smooth: 0.3},
        style: {fill: style.fill, stroke: style.stroke || null, lineWidth: style.lineWidth || 0}
      };
    }
  };
}

const grids = [], xAxes = [], yAxes = [], series = [];
PANELS.forEach((p, i) => {
  const row = ROWS[p.r];
  grids.push({
    left: row.lefts[p.c], top: row.top, width: row.w, height: row.h,
    show: true, borderColor: AXIS_COLOR, borderWidth: 1, backgroundColor: 'transparent',
    containLabel: false, outerBoundsMode: 'none'
  });
  xAxes.push({
    type: 'value', gridIndex: i, min: row.x[0], max: row.x[1],
    axisLine: {show: true, onZero: false, lineStyle: {color: AXIS_COLOR, width: 1}},
    axisTick: {show: true, length: 3.5, lineStyle: {color: AXIS_COLOR, width: 1}, customValues: row.xt},
    axisLabel: {customValues: row.xt, formatter: v => fmt(v, 2), margin: 6, fontFamily: FONT, fontSize: 10, color: '#000'},
    splitLine: {show: false},
    name: X_NAME, nameLocation: 'middle', nameGap: 24.5,
    nameTextStyle: {rich: RICH}
  });
  const maxW = Math.max(...p.yt.map(v => tickWidth(fmt(v, p.d))));
  yAxes.push({
    type: 'value', gridIndex: i, min: p.y[0], max: p.y[1],
    axisLine: {show: true, onZero: false, lineStyle: {color: AXIS_COLOR, width: 1}},
    axisTick: {show: true, length: 3.5, lineStyle: {color: AXIS_COLOR, width: 1}, customValues: p.yt},
    axisLabel: {customValues: p.yt, formatter: v => fmt(v, p.d), margin: 6, fontFamily: FONT, fontSize: 10, color: '#000'},
    splitLine: {show: false},
    name: Y_NAMES[p.k], nameLocation: 'middle', nameRotate: 90, nameGap: maxW + 15,
    nameTextStyle: {rich: RICH}
  });
  // drawing order: BAO fill, DESI 2σ, DESI 1σ, BAO outline on top
  series.push(polySeries(row.names[0], p.bao, i, {fill: RED_FILL, legendColor: RED}));
  series.push(polySeries(row.names[1], p.desi, i, {fill: GREEN_FILL, stroke: GREEN, lineWidth: 1, legendColor: GREEN}));
  series.push(polySeries(row.names[1], p.core, i, {fill: GREEN, stroke: GREEN, lineWidth: 0.5, legendColor: GREEN}));
  series.push(polySeries(row.names[0], p.bao, i, {fill: 'none', stroke: RED, lineWidth: 1, legendColor: RED}));
});

const titles = ROWS.map(row => ({
  text: row.title, right: row.titleRight, top: row.titleTop, padding: 0,
  textStyle: {fontFamily: FONT, fontWeight: 'bold', fontSize: 16, color: '#000', lineHeight: 18}
}));

// legend labels carry a left pad so the swatch-to-text spacing is wider than the default
const legends = ROWS.map(row => ({
  left: row.legendLeft, top: row.legendTop, orient: 'horizontal',
  icon: 'rect', itemWidth: 26, itemHeight: 10, itemGap: 26, padding: [3.5, 5],
  backgroundColor: '#fff', borderColor: '#cccccc', borderWidth: 1, borderRadius: 3,
  selectedMode: false,
  formatter: name => '{t|' + name + '}',
  textStyle: {fontFamily: FONT, fontSize: 12, color: '#000', lineHeight: 14,
    rich: {t: {fontFamily: FONT, fontSize: 12, color: '#000', lineHeight: 14, padding: [0, 0, 0, 4]}}},
  data: [
    {name: row.names[0], itemStyle: {color: RED}},
    {name: row.names[1], itemStyle: {color: GREEN}}
  ]
}));

const chart = echarts.init(document.getElementById('chart'), null, {renderer: 'canvas'});
chart.setOption({
  backgroundColor: '#fff',
  animation: false,
  title: titles,
  legend: legends,
  grid: grids,
  xAxis: xAxes,
  yAxis: yAxes,
  series: series
});
</script>
</body>
</html>
